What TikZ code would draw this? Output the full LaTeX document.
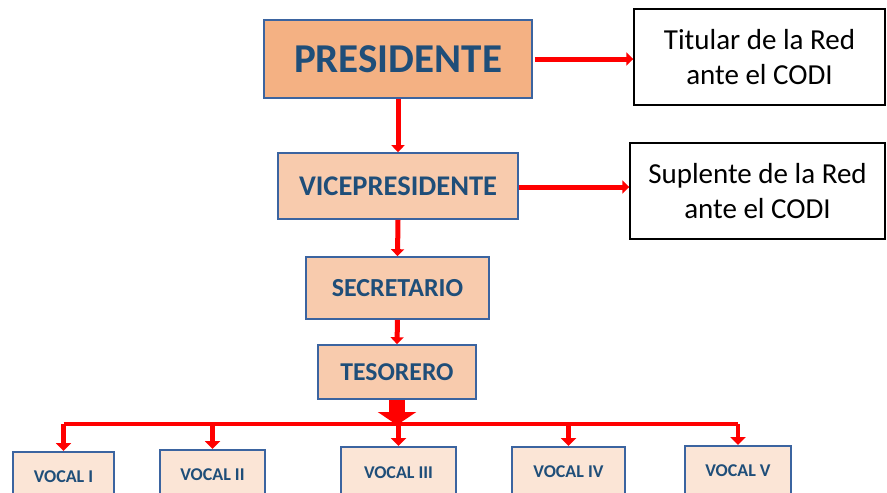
\documentclass[tikz,border=0pt]{standalone}
\usepackage{fontspec}
\setmainfont{Carlito}
\usetikzlibrary{arrows.meta}
\definecolor{bordblue}{HTML}{3B64A0}
\definecolor{txtblue}{HTML}{1F4E79}
\definecolor{presfill}{HTML}{F4B183}
\definecolor{midfill}{HTML}{F8CBAD}
\definecolor{vocfill}{HTML}{FBE5D6}
\definecolor{arrred}{HTML}{FF0000}
\tikzset{
  x=1pt, y=-1pt,
  orgbox/.style={draw=bordblue, line width=1.6pt, inner sep=0pt, text=txtblue, font=\bfseries},
  vocbox/.style={orgbox, fill=vocfill, minimum height=50pt, anchor=north, font=\bfseries\fontsize{18}{20}\selectfont},
  notebox/.style={draw=black, line width=1.4pt, inner sep=0pt, align=center, font=\fontsize{29}{35}\selectfont},
  redarr/.style={draw=arrred, line width=5pt, -{Triangle[width=13pt,length=7pt]}},
  vocarr/.style={draw=arrred, line width=4.5pt, -{Triangle[width=15pt,length=8pt]}},
  bigarr/.style={draw=arrred, line width=16pt, -{Triangle[width=38pt,length=13pt]}},
}
\begin{document}
\begin{tikzpicture}
\useasboundingbox (0,0) rectangle (887,493);
\clip (0,0) rectangle (887,493);
% main boxes
\node[orgbox, fill=presfill, minimum width=268pt, minimum height=78pt, font=\bfseries\fontsize{41}{44}\selectfont] (pres) at (398,59) {PRESIDENTE};
\node[orgbox, fill=midfill, minimum width=240pt, minimum height=66pt, font=\bfseries\fontsize{28.5}{30}\selectfont] (vice) at (398,186) {VICEPRESIDENTE};
\node[orgbox, fill=midfill, minimum width=183pt, minimum height=62pt, font=\bfseries\fontsize{26}{28}\selectfont] (sec) at (397.5,288) {SECRETARIO};
\node[orgbox, fill=midfill, minimum width=158pt, minimum height=54pt, font=\bfseries\fontsize{25.7}{28}\selectfont] (tes) at (397,372) {TESORERO};
% side notes
\node[notebox, minimum width=251pt, minimum height=96pt] (tit) at (759.5,57) {Titular de la Red\\ante el CODI};
\node[notebox, minimum width=255pt, minimum height=96pt] (sup) at (757.5,191) {Suplente de la Red\\ante el CODI};
% vocal boxes
\node[vocbox, minimum width=101pt] (v1) at (63.5,451) {VOCAL I};
\node[vocbox, minimum width=105pt] (v2) at (212.5,449) {VOCAL II};
\node[vocbox, minimum width=115pt, minimum height=52pt] (v3) at (398.5,446) {VOCAL III};
\node[vocbox, minimum width=113pt] (v4) at (568.5,446) {VOCAL IV};
\node[vocbox, minimum width=106pt] (v5) at (738,445) {VOCAL V};
% connectors
\draw[redarr] ([xshift=2pt]pres.east) -- (pres.east -| tit.west);
\draw[redarr] ([yshift=-1pt]vice.east) -- ([yshift=-1pt]vice.east -| sup.west);
\draw[redarr] (pres.south) -- (vice.north);
\draw[redarr] (vice.south) -- (sec.north);
\draw[redarr] (sec.south) -- (tes.north);
\coordinate (bus) at (397,424);
\draw[bigarr] (tes.south) -- ([yshift=-1pt]bus);
\draw[draw=arrred, line width=4pt] (v1.north |- bus) -- (v5.north |- bus);
\foreach \v in {v1,v2,v3,v4,v5}
  \draw[vocarr] (\v.north |- bus) -- (\v.north);
\end{tikzpicture}
\end{document}
